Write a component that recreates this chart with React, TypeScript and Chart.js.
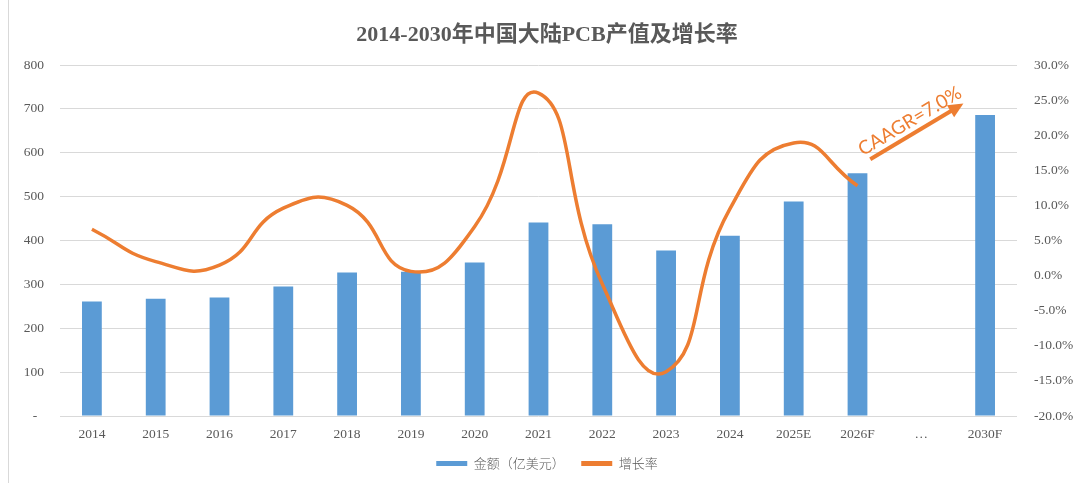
import React, { useEffect, useRef } from 'react';
import { Chart, registerables } from 'chart.js';

Chart.register(...registerables);

const titleText = '2014-2030年中国大陆PCB产值及增长率';
const categories = ['2014', '2015', '2016', '2017', '2018', '2019', '2020', '2021', '2022', '2023', '2024', '2025E', '2026F', '…', '2030F'];
const amountLabel = '金额（亿美元）';
const amounts = [261, 267, 270, 295, 327, 329, 350, 441, 437, 377, 411, 489, 553, null, 686];
const growthLabel = '增长率';
const growthRates = [6.6, 2.0, 1.5, 9.6, 10.0, 0.6, 7.0, 26.0, -1.2, -13.7, 9.5, 18.9, 12.8, null, null];
const leftAxis = { min: 0, max: 800, step: 100 };
const rightAxis = { min: -20, max: 30, step: 5 };

// CAAGR annotation (in data space: x = category index, y = left-axis value)
const caagrText = 'CAAGR=7.0%';
const caagrArrowFrom = { x: 12.2, y: 585 };
const caagrArrowTo = { x: 13.66, y: 712 };
const caagrTextAt = { x: 12.82, y: 672 };

const BLUE = '#5B9BD5';
const ORANGE = '#ED7D31';
const TEXT = '#595959';
const GRID = '#D9D9D9';
const SERIF = "'Liberation Serif', 'Times New Roman', serif";

const caagrPlugin = {
  id: 'caagr',
  afterDatasetsDraw(chart: any) {
    const { ctx } = chart;
    const xs = chart.scales.x;
    const ys = chart.scales.y;
    const x1 = xs.getPixelForValue(caagrArrowFrom.x);
    const y1 = ys.getPixelForValue(caagrArrowFrom.y);
    const x2 = xs.getPixelForValue(caagrArrowTo.x);
    const y2 = ys.getPixelForValue(caagrArrowTo.y);
    const ang = Math.atan2(y2 - y1, x2 - x1);
    const c = Math.cos(ang);
    const s = Math.sin(ang);
    const headLen = 15;
    const headW = 7;
    const bx = x2 - headLen * c;
    const by = y2 - headLen * s;
    ctx.save();
    ctx.strokeStyle = ORANGE;
    ctx.fillStyle = ORANGE;
    ctx.lineWidth = 4;
    ctx.beginPath();
    ctx.moveTo(x1, y1);
    ctx.lineTo(bx + 2 * c, by + 2 * s);
    ctx.stroke();
    ctx.beginPath();
    ctx.moveTo(x2, y2);
    ctx.lineTo(bx - headW * s, by + headW * c);
    ctx.lineTo(bx + headW * s, by - headW * c);
    ctx.closePath();
    ctx.fill();
    const tx = xs.getPixelForValue(caagrTextAt.x);
    const ty = ys.getPixelForValue(caagrTextAt.y);
    ctx.translate(tx, ty);
    ctx.rotate(ang);
    ctx.font = "19px Lato, 'Open Sans', sans-serif";
    ctx.textAlign = 'center';
    ctx.textBaseline = 'middle';
    ctx.fillText(caagrText, 0, 0);
    ctx.restore();
  },
};

export default function App() {
  const canvasRef = useRef<HTMLCanvasElement | null>(null);

  useEffect(() => {
    if (!canvasRef.current) return;
    const chart = new Chart(canvasRef.current, {
      type: 'bar',
      data: {
        labels: categories,
        datasets: [
          {
            type: 'bar',
            label: amountLabel,
            data: amounts as any,
            backgroundColor: BLUE,
            borderWidth: 0,
            barPercentage: 0.31,
            categoryPercentage: 1,
            yAxisID: 'y',
            order: 2,
          },
          {
            type: 'line',
            label: growthLabel,
            data: growthRates as any,
            borderColor: ORANGE,
            backgroundColor: ORANGE,
            borderWidth: 3.5,
            pointRadius: 0,
            tension: 0.5,
            spanGaps: false,
            yAxisID: 'y1',
            order: 1,
          },
        ],
      },
      options: {
        responsive: false,
        animation: false,
        events: [],
        layout: { padding: { bottom: 3, left: 12 } },
        plugins: {
          tooltip: { enabled: false },
          title: {
            display: true,
            text: titleText,
            color: TEXT,
            font: { family: "'Liberation Serif', 'Noto Sans CJK SC', serif", size: 22, weight: 'bold', lineHeight: 1.2 },
            padding: { top: 22, bottom: 16.6 },
          },
          legend: {
            display: true,
            position: 'bottom',
            labels: {
              color: TEXT,
              font: { family: "'Noto Sans CJK SC', sans-serif", size: 13, weight: '300' },
              boxWidth: 31,
              boxHeight: 5,
              padding: 10,
              generateLabels: (ch: any) =>
                ch.data.datasets.map((ds: any, i: number, arr: any[]) => ({
                  text: i < arr.length - 1 ? ds.label + '\u3000' : ds.label,
                  fillStyle: ds.type === 'line' ? ds.borderColor : ds.backgroundColor,
                  strokeStyle: 'rgba(0,0,0,0)',
                  lineWidth: 0,
                  fontColor: TEXT,
                  hidden: false,
                  datasetIndex: i,
                })),
            },
          },
        },
        scales: {
          x: {
            grid: { display: false, drawTicks: false },
            border: { display: false },
            ticks: {
              color: TEXT,
              font: { family: SERIF, size: 13.5 },
              padding: 10,
              autoSkip: false,
              maxRotation: 0,
            },
            afterFit: (scale: any) => {
              scale.height = 31;
            },
          },
          y: {
            position: 'left',
            min: leftAxis.min,
            max: leftAxis.max,
            grid: { color: GRID, lineWidth: 1, drawTicks: false },
            border: { display: false },
            ticks: {
              stepSize: leftAxis.step,
              color: TEXT,
              font: { family: SERIF, size: 13.5 },
              padding: 16,
              callback: (v: any) => (Number(v) === 0 ? '-  ' : String(v)),
            },
            afterFit: (scale: any) => {
              scale.width = 39;
            },
          },
          y1: {
            position: 'right',
            min: rightAxis.min,
            max: rightAxis.max,
            grid: { display: false, drawTicks: false },
            border: { display: false },
            ticks: {
              stepSize: rightAxis.step,
              color: TEXT,
              font: { family: SERIF, size: 13.5 },
              padding: 17,
              callback: (v: any) => Number(v).toFixed(1) + '%',
            },
            afterFit: (scale: any) => {
              scale.width = 56;
            },
          },
        },
      } as any,
      plugins: [caagrPlugin],
    });
    return () => chart.destroy();
  }, []);

  return (
    <div
      style={{
        position: 'fixed',
        left: 8,
        top: 0,
        width: 1065,
        height: 483,
        boxSizing: 'border-box',
        borderLeft: '1px solid #D9D9D9',
        background: '#fff',
      }}
    >
      <canvas ref={canvasRef} width={1064} height={483} style={{ display: 'block' }} />
    </div>
  );
}
